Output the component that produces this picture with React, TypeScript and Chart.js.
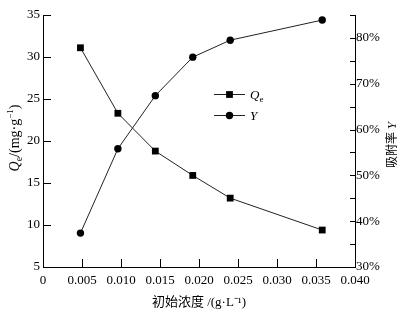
import React, { useEffect, useRef } from 'react';
import { Chart, registerables } from 'chart.js';

Chart.register(...registerables);

// ---- data ----
const concentration = [0.0048, 0.0096, 0.0144, 0.0192, 0.024, 0.0358];
const qeValues = [31.1, 23.3, 18.8, 15.9, 13.2, 9.4];
const yValues = [37.4, 55.8, 67.4, 75.8, 79.5, 83.9];

const xTickValues = [0, 0.005, 0.01, 0.015, 0.02, 0.025, 0.03, 0.035, 0.04];
const xTickLabels = ['0', '0.005', '0.010', '0.015', '0.020', '0.025', '0.030', '0.035', '0.040'];
const qeTickValues = [5, 10, 15, 20, 25, 30, 35];
const qeTickLabels = ['5', '10', '15', '20', '25', '30', '35'];
const yTickValues = [30, 35, 40, 45, 50, 55, 60, 65, 70, 75, 80, 85];
const yTickLabels = ['30%', '', '40%', '', '50%', '', '60%', '', '70%', '', '80%', ''];

const SERIF = "'Liberation Serif', 'Times New Roman', 'Noto Sans CJK SC', serif";
const CJK = "'Noto Sans CJK SC', sans-serif";

type Seg = { text: string; font: string; dy?: number };

function drawRich(ctx: CanvasRenderingContext2D, segs: Seg[], cx: number, cy: number, rot: number, align: 'center' | 'left' = 'center') {
  ctx.save();
  ctx.translate(cx, cy);
  ctx.rotate(rot);
  ctx.textBaseline = 'alphabetic';
  ctx.textAlign = 'left';
  ctx.fillStyle = '#000';
  let total = 0;
  const widths = segs.map((s) => {
    ctx.font = s.font;
    const w = ctx.measureText(s.text).width;
    total += w;
    return w;
  });
  let x = align === 'center' ? -total / 2 : 0;
  segs.forEach((s, i) => {
    ctx.font = s.font;
    ctx.fillText(s.text, x, s.dy || 0);
    x += widths[i];
  });
  ctx.restore();
}

const decorPlugin = {
  id: 'decor',
  afterDraw(chart: any) {
    const ctx: CanvasRenderingContext2D = chart.ctx;
    const { left, right, top, bottom } = chart.chartArea;
    const xs = chart.scales.x;
    const yl = chart.scales.y;
    const yr = chart.scales.y1;
    ctx.save();
    // inward ticks
    ctx.strokeStyle = '#000';
    ctx.lineWidth = 1;
    ctx.beginPath();
    xs.ticks.forEach((t: any) => {
      const px = Math.round(xs.getPixelForValue(t.value)) + 0.5;
      ctx.moveTo(px, bottom);
      ctx.lineTo(px, bottom - 8);
    });
    yl.ticks.forEach((t: any) => {
      const py = Math.round(yl.getPixelForValue(t.value)) + 0.5;
      ctx.moveTo(left, py);
      ctx.lineTo(left + 8, py);
    });
    yr.ticks.forEach((t: any) => {
      const py = Math.round(yr.getPixelForValue(t.value)) + 0.5;
      ctx.moveTo(right, py);
      ctx.lineTo(right - 5, py);
    });
    ctx.stroke();

    // left axis title
    const midY = (top + bottom) / 2;
    drawRich(
      ctx,
      [
        { text: 'Q', font: `italic 14px ${SERIF}` },
        { text: 'e', font: `10px ${SERIF}`, dy: 3 },
        { text: '/(mg·g', font: `14px ${SERIF}` },
        { text: '−1', font: `9px ${SERIF}`, dy: -6 },
        { text: ')', font: `14px ${SERIF}` },
      ],
      19,
      midY - 3,
      -Math.PI / 2
    );
    // right axis title
    drawRich(
      ctx,
      [
        { text: '吸附率 ', font: `12px ${CJK}` },
        { text: 'Y', font: `italic 13px ${SERIF}` },
      ],
      396,
      midY + 4,
      -Math.PI / 2
    );

    // legend
    const items = [
      { ds: chart.data.datasets[0], y: 94, label: [
        { text: 'Q', font: `italic 13px ${SERIF}` },
        { text: 'e', font: `9px ${SERIF}`, dy: 3 },
      ] },
      { ds: chart.data.datasets[1], y: 115, label: [
        { text: 'Y', font: `italic 13px ${SERIF}` },
      ] },
    ];
    const lx0 = 214;
    const lx1 = 245;
    items.forEach((it) => {
      ctx.strokeStyle = it.ds.borderColor;
      ctx.lineWidth = 1;
      ctx.beginPath();
      ctx.moveTo(lx0, it.y + 0.5);
      ctx.lineTo(lx1, it.y + 0.5);
      ctx.stroke();
      ctx.fillStyle = '#000';
      const cx = (lx0 + lx1) / 2;
      const r = it.ds.pointRadius;
      ctx.beginPath();
      if (it.ds.pointStyle === 'rect') {
        const s = Math.SQRT1_2 * r;
        ctx.rect(cx - s, it.y + 0.5 - s, 2 * s, 2 * s);
      } else {
        ctx.arc(cx, it.y + 0.5, r, 0, Math.PI * 2);
      }
      ctx.fill();
      drawRich(ctx, it.label as Seg[], 250, it.y + 4.5, 0, 'left');
    });
    ctx.restore();
  },
};

export default function App() {
  const canvasRef = useRef<HTMLCanvasElement | null>(null);

  useEffect(() => {
    const canvas = canvasRef.current;
    if (!canvas) return;
    const tickFont = { family: SERIF, size: 13 };
    const chart = new Chart(canvas, {
      type: 'line',
      data: {
        datasets: [
          {
            label: 'Qe',
            data: concentration.map((x, i) => ({ x, y: qeValues[i] })),
            yAxisID: 'y',
            borderColor: '#222',
            borderWidth: 1,
            pointStyle: 'rect',
            pointRadius: 4.8,
            pointBackgroundColor: '#000',
            pointBorderColor: '#000',
            pointBorderWidth: 0,
            tension: 0,
          },
          {
            label: 'Y',
            data: concentration.map((x, i) => ({ x, y: yValues[i] })),
            yAxisID: 'y1',
            borderColor: '#222',
            borderWidth: 1,
            pointStyle: 'circle',
            pointRadius: 3.7,
            pointBackgroundColor: '#000',
            pointBorderColor: '#000',
            pointBorderWidth: 0,
            tension: 0,
          },
        ],
      },
      options: {
        animation: false,
        responsive: false,
        devicePixelRatio: 1,
        layout: { padding: { top: 15, left: 0, right: 0, bottom: 0 } },
        plugins: { legend: { display: false }, tooltip: { enabled: false } },
        scales: {
          x: {
            type: 'linear',
            min: 0,
            max: 0.04,
            afterBuildTicks: (s: any) => {
              s.ticks = xTickValues.map((v) => ({ value: v }));
            },
            afterFit: (s: any) => {
              s.height = 47;
            },
            grid: { display: true, drawOnChartArea: false, drawTicks: false },
            border: { display: true, color: '#000', width: 1 },
            ticks: {
              autoSkip: false,
              maxRotation: 0,
              padding: 6,
              color: '#000',
              font: tickFont,
              callback: (_v: any, i: number) => xTickLabels[i],
            },
            title: {
              display: true,
              text: '初始浓度 /(g·L⁻¹)',
              color: '#000',
              font: { family: SERIF, size: 13 },
              padding: { top: 0, bottom: 4 },
            },
          },
          y: {
            type: 'linear',
            position: 'left',
            min: 5,
            max: 35,
            afterBuildTicks: (s: any) => {
              s.ticks = qeTickValues.map((v) => ({ value: v }));
            },
            afterFit: (s: any) => {
              s.width = 43;
            },
            grid: { display: true, drawOnChartArea: false, drawTicks: false },
            border: { display: true, color: '#000', width: 1 },
            ticks: {
              padding: 3,
              color: '#000',
              font: tickFont,
              callback: (_v: any, i: number) => qeTickLabels[i],
            },
          },
          y1: {
            type: 'linear',
            position: 'right',
            min: 30,
            max: 85,
            afterBuildTicks: (s: any) => {
              s.ticks = yTickValues.map((v) => ({ value: v }));
            },
            afterFit: (s: any) => {
              s.width = 51;
            },
            grid: { display: true, drawOnChartArea: false, drawTicks: false },
            border: { display: true, color: '#000', width: 1 },
            ticks: {
              autoSkip: false,
              padding: 1,
              color: '#000',
              font: tickFont,
              callback: (_v: any, i: number) => yTickLabels[i],
            },
          },
        },
      },
      plugins: [decorPlugin],
    } as any);
    return () => chart.destroy();
  }, []);

  return (
    <div style={{ position: 'absolute', left: 0, top: 0, width: 406, height: 314, background: '#fff' }}>
      <canvas ref={canvasRef} width={406} height={314} style={{ display: 'block' }} />
    </div>
  );
}
